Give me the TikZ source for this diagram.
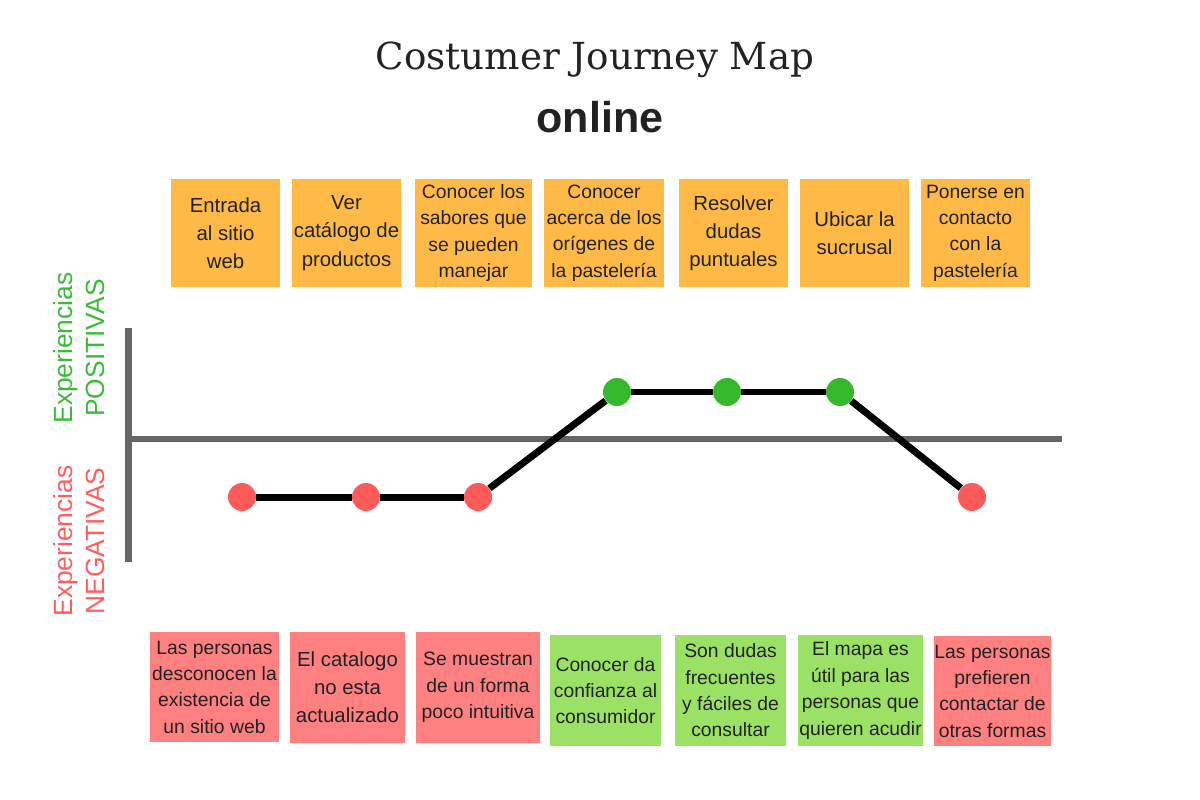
\documentclass[tikz,border=0pt]{standalone}
\usepackage{fontspec}
\setmainfont{Liberation Sans}
\newfontfamily\titlefont{DejaVu Serif}
\usepackage{tikz}
\usetikzlibrary{
    positioning,
    calc
}
\definecolor{stageorange}{HTML}{FFB947}
\definecolor{painred}{HTML}{FF8080}
\definecolor{gaingreen}{HTML}{9BE166}
\definecolor{dotred}{HTML}{FF5A5A}
\definecolor{dotgreen}{HTML}{36B82C}
\definecolor{labelgreen}{HTML}{3DB93A}
\definecolor{labelred}{HTML}{FF5E5E}
\definecolor{axisgray}{HTML}{666666}
\definecolor{boxtext}{HTML}{222222}
\tikzset{
    stagebox/.style = {
        rectangle,
        fill=stageorange,
        text=boxtext,
        inner sep=0pt,
        minimum height=2.16cm,
        align=center,
        font=\fontsize{11}{15}\selectfont
    },
    bigtext/.style = {
        font=\fontsize{11.6}{16}\selectfont
    },
    painbox/.style = {
        rectangle,
        fill=painred,
        text=boxtext,
        inner sep=0pt,
        minimum height=2.21cm,
        align=center,
        font=\fontsize{11}{15}\selectfont
    },
    gainbox/.style = {
        rectangle,
        fill=gaingreen,
        text=boxtext,
        inner sep=0pt,
        minimum height=2.22cm,
        align=center,
        font=\fontsize{11}{15}\selectfont
    },
    negdot/.style = {
        circle,
        fill=dotred,
        minimum size=0.56cm,
        inner sep=0pt
    },
    posdot/.style = {
        circle,
        fill=dotgreen,
        minimum size=0.56cm,
        inner sep=0pt
    },
    axis/.style = {
        draw=axisgray,
        line width=0.14cm
    },
    journey/.style = {
        draw=black,
        line width=0.14cm
    },
    sidelabel/.style = {
        rotate=90,
        inner sep=0pt,
        font=\fontsize{15}{18}\selectfont
    }
}

\begin{document}
\begin{tikzpicture}[x=0.02cm, y=-0.02cm]
\useasboundingbox (0,0) rectangle (1200,800);

% title
\node (title) [text=boxtext, font=\titlefont\fontsize{21.2}{25}\selectfont] at (595,60) {Costumer Journey Map};
\node (subtitle) [text=boxtext, font=\bfseries\fontsize{24.5}{28}\selectfont] at (600,117) {online};

% stages
\node (s1) [stagebox, bigtext, minimum width=2.18cm] at (225.5,233) {Entrada\\al sitio\\web};
\node (s2) [stagebox, bigtext, minimum width=2.18cm] at (346.5,233) {Ver\\catálogo de\\productos};
\node (s3) [stagebox, minimum width=2.34cm] at (473.5,233) {Conocer los\\sabores que\\se pueden\\manejar};
\node (s4) [stagebox, minimum width=2.40cm] at (604,233) {Conocer\\acerca de los\\orígenes de\\la pastelería};
\node (s5) [stagebox, bigtext, minimum width=2.18cm] at (733.5,233) {Resolver\\dudas\\puntuales};
\node (s6) [stagebox, bigtext, minimum width=2.18cm] at (854.5,233) {Ubicar la\\sucrusal};
\node (s7) [stagebox, minimum width=2.18cm] at (975.5,233) {Ponerse en\\contacto\\con la\\pastelería};

% axes
\coordinate (ytop) at (128,328);
\coordinate (ybottom) at (128,562);
\coordinate (origin) at (128,439);
\coordinate (xend) at (1062,439);
\draw [axis] (ytop) -- (ybottom);
\draw [axis] (origin) -- (xend);

% side labels
\node (poslabel) [sidelabel, text=labelgreen, align=center] at (79,348) {Experiencias\\POSITIVAS};
\node (neglabel) [sidelabel, text=labelred, align=center] at (79,541) {Experiencias\\NEGATIVAS};

% journey points
\node (p1) [negdot] at (242,497) {};
\node (p2) [negdot] at (366,497) {};
\node (p3) [negdot] at (478,497) {};
\node (p4) [posdot] at (617,392) {};
\node (p5) [posdot] at (727,392) {};
\node (p6) [posdot] at (840,392) {};
\node (p7) [negdot] at (972,497) {};

\draw [journey] (p1) -- (p2);
\draw [journey] (p2) -- (p3);
\draw [journey] (p3) -- (p4);
\draw [journey] (p4) -- (p5);
\draw [journey] (p5) -- (p6);
\draw [journey] (p6) -- (p7);

% experiences
\node (e1) [painbox, minimum width=2.58cm, minimum height=2.20cm] at (214.5,687) {Las personas\\desconocen la\\existencia de\\un sitio web};
\node (e2) [painbox, bigtext, minimum width=2.30cm] at (347.5,687.5) {El catalogo\\no esta\\actualizado};
\node (e3) [painbox, minimum width=2.48cm] at (478,687.5) {Se muestran\\de un forma\\poco intuitiva};
\node (e4) [gainbox, minimum width=2.22cm] at (605.5,690.5) {Conocer da\\confianza al\\consumidor};
\node (e5) [gainbox, minimum width=2.22cm] at (730.5,690.5) {Son dudas\\frecuentes\\y fáciles de\\consultar};
\node (e6) [gainbox, minimum width=2.50cm] at (860.5,690.5) {El mapa es\\útil para las\\personas que\\quieren acudir};
\node (e7) [painbox, minimum width=2.34cm, minimum height=2.20cm] at (992.5,691) {Las personas\\prefieren\\contactar de\\otras formas};
\end{tikzpicture}
\end{document}
